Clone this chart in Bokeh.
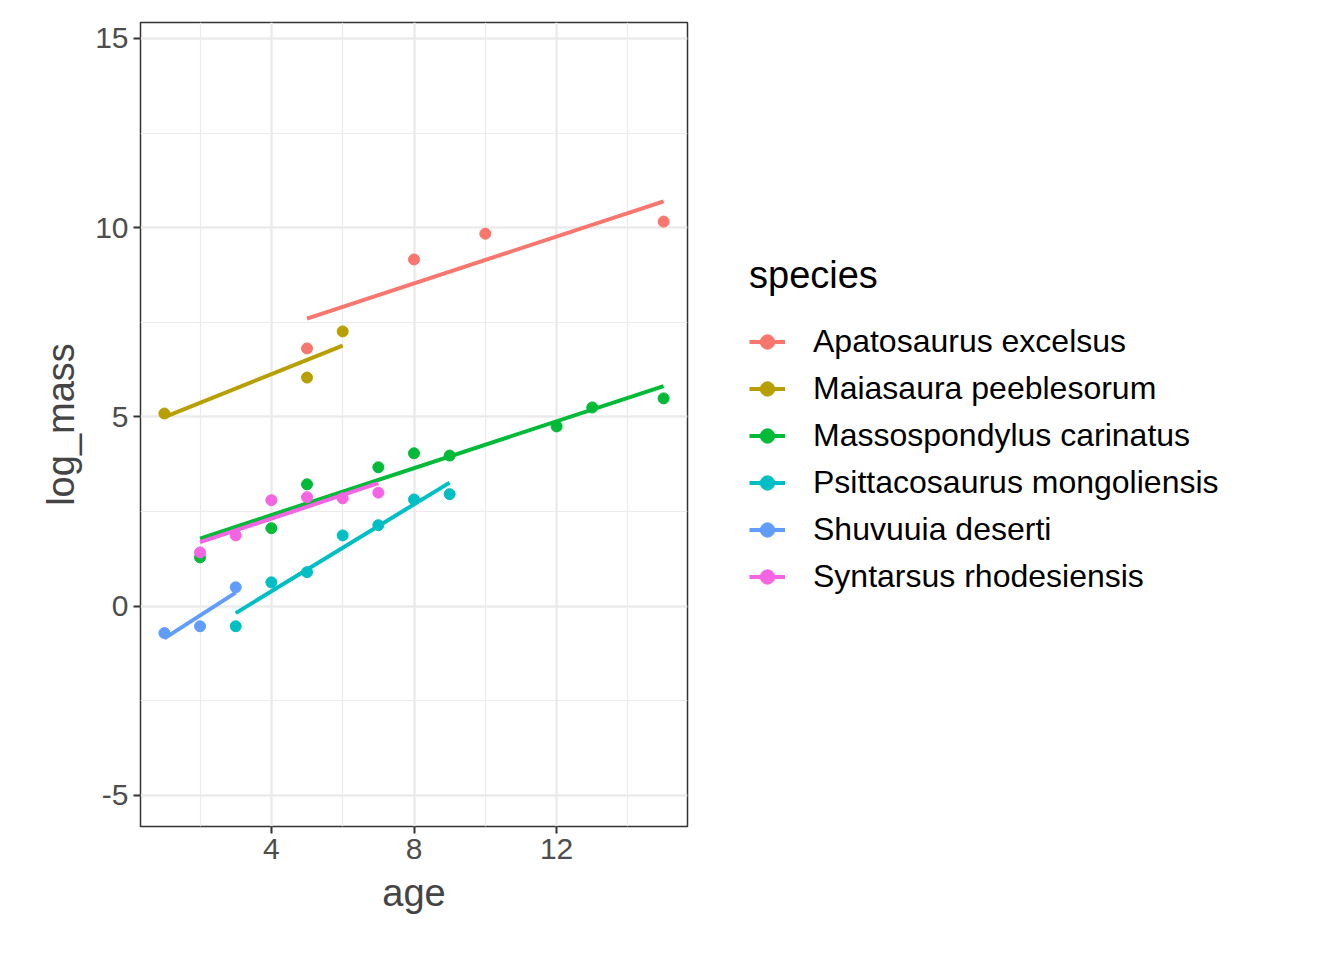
from bokeh.plotting import figure
from bokeh.models import Legend, LegendItem, FixedTicker, Range1d
from bokeh.embed import file_html
from bokeh.resources import INLINE
import numpy as np

species = ["Apatosaurus excelsus", "Maiasaura peeblesorum", "Massospondylus carinatus",
           "Psittacosaurus mongoliensis", "Shuvuuia deserti", "Syntarsus rhodesiensis"]
colors = ["#F8766D", "#B79F00", "#00BA38", "#00BFC4", "#619CFF", "#F564E3"]

ages = [
    [5, 8, 10, 15],
    [1, 5, 6],
    [2, 4, 5, 7, 8, 9, 12, 13, 15],
    [3, 4, 5, 6, 7, 8, 9],
    [1, 2, 3],
    [2, 3, 4, 5, 6, 7],
]
log_mass = [
    [6.81, 9.16, 9.84, 10.16],
    [5.09, 6.04, 7.26],
    [1.29, 2.06, 3.22, 3.67, 4.04, 3.98, 4.75, 5.25, 5.49],
    [-0.53, 0.63, 0.90, 1.87, 2.14, 2.82, 2.96],
    [-0.71, -0.53, 0.50],
    [1.42, 1.87, 2.80, 2.88, 2.85, 3.00],
]

p = figure(frame_width=547, frame_height=804, output_backend="svg", toolbar_location=None,
           x_range=Range1d(0.33, 15.67), y_range=Range1d(-5.82, 15.42),
           min_border_left=140, min_border_top=22, min_border_bottom=110)

items = []
for name, c, x, y in zip(species, colors, ages, log_mass):
    x = np.array(x, dtype=float)
    y = np.array(y, dtype=float)
    k, b = np.polyfit(x, y, 1)
    xs = [x.min(), x.max()]
    ln = p.line(xs, [k * v + b for v in xs], line_color=c, line_width=4)
    sc = p.scatter(x, y, size=11, fill_color=c, line_color=c)
    items.append(LegendItem(label=name, renderers=[ln, sc]))

legend = Legend(items=items, title="species", location="center_left",
                label_text_font_size="32px", title_text_font_size="38px",
                label_text_font="Liberation Sans", title_text_font="Liberation Sans",
                title_text_font_style="normal", title_text_color="black",
                label_text_color="black",
                glyph_width=36, glyph_height=36, label_height=36, spacing=10,
                label_standoff=28,
                border_line_color=None, background_fill_color=None,
                margin=62, padding=8, title_standoff=26)
p.add_layout(legend, "right")

p.xaxis.ticker = FixedTicker(ticks=[4, 8, 12], minor_ticks=[2, 6, 10, 14])
p.yaxis.ticker = FixedTicker(ticks=[-5, 0, 5, 10, 15], minor_ticks=[-2.5, 2.5, 7.5, 12.5])
p.yaxis.major_label_overrides = {-5: "-5", 0: "0", 5: "5", 10: "10", 15: "15"}
p.xaxis.axis_label = "age"
p.yaxis.axis_label = "log_mass"
for ax in [p.xaxis, p.yaxis]:
    ax.axis_label_text_font_size = "38px"
    ax.axis_label_text_font_style = "normal"
    ax.axis_label_text_font = "Liberation Sans"
    ax.axis_label_standoff = 10
    ax.major_label_text_font_size = "30px"
    ax.major_label_text_font = "Liberation Sans"
    ax.major_label_text_color = "#4D4D4D"
    ax.axis_line_color = None
    ax.major_tick_line_color = "#333333"
    ax.major_tick_line_width = 2
    ax.major_tick_out = 7
    ax.major_tick_in = 0
    ax.minor_tick_line_color = None
for g in [p.xgrid, p.ygrid]:
    g.grid_line_color = "#EBEBEB"
    g.grid_line_width = 2.5
    g.minor_grid_line_color = "#EBEBEB"
    g.minor_grid_line_width = 1.2
p.outline_line_color = "#333333"
p.outline_line_width = 1.5

open("out.html", "w").write(file_html(p, INLINE))
